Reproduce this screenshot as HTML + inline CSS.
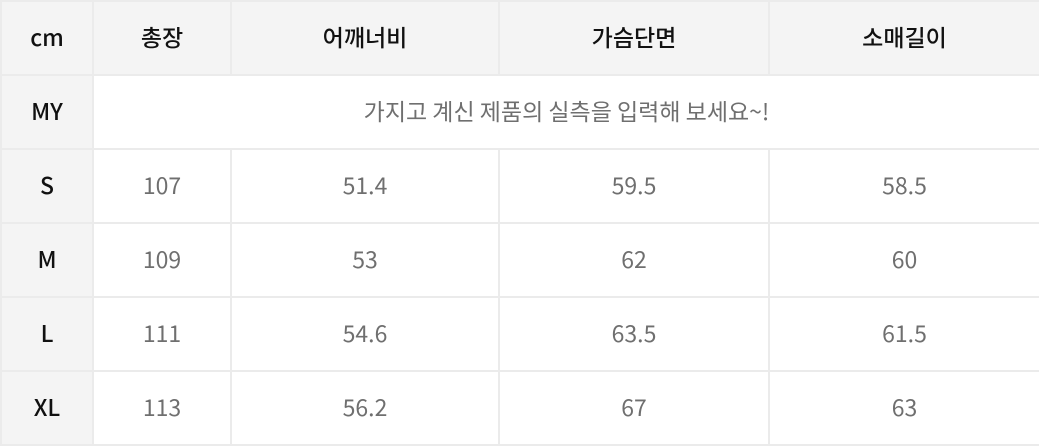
<!DOCTYPE html>
<html><head><meta charset="utf-8"><style>
html,body{margin:0;padding:0;background:#fff;}
table{position:absolute;left:0;top:0;width:1039px;height:445px;border-collapse:collapse;table-layout:fixed;font-family:"Noto Sans CJK KR","Liberation Sans",sans-serif;font-size:23px;}
td,th{border:2px solid #ebebeb;text-align:center;vertical-align:middle;padding:0 0 4px 0;line-height:1;}
th{background:#f4f4f4;color:#111;font-weight:500;}
td{color:#6f6f6f;font-weight:400;}
tr{height:74px;}
</style></head><body>
<table>
<colgroup><col style="width:92px"><col style="width:138px"><col style="width:268px"><col style="width:270px"><col style="width:271px"></colgroup>
<tr><th>cm</th><th>총장</th><th>어깨너비</th><th>가슴단면</th><th>소매길이</th></tr>
<tr><th>MY</th><td colspan="4">가지고 계신 제품의 실측을 입력해 보세요~!</td></tr>
<tr><th>S</th><td>107</td><td>51.4</td><td>59.5</td><td>58.5</td></tr>
<tr><th>M</th><td>109</td><td>53</td><td>62</td><td>60</td></tr>
<tr><th>L</th><td>111</td><td>54.6</td><td>63.5</td><td>61.5</td></tr>
<tr><th>XL</th><td>113</td><td>56.2</td><td>67</td><td>63</td></tr>
</table>
</body></html>
